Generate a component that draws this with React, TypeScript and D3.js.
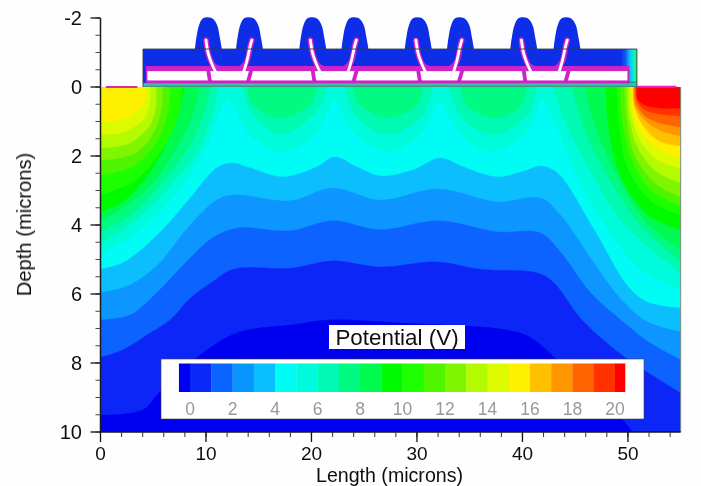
import React from "react";
import * as d3 from "d3";

type P = [number, number];

// Colour of each legend cell, lowest potential first
const cellColors = ["#0000f0","#0a28f8","#0a64ff","#0a96ff","#0abeff","#00fcf4","#00fadc","#00fab4","#00fa82","#00fa50","#00fa00","#1eff00","#50f500","#80f500","#b4fa00","#dcfa00","#fff000","#ffc000","#ff9600","#ff6400","#ff3200","#ff0000"];
const legendTicks = [0,2,4,6,8,10,12,14,16,18,20];
const legendEdges = [-0.52,...d3.range(0,21),20.47];

const xMajor = [0,10,20,30,40,50];
const xMinor = d3.range(0,55,2);
const yMajor = [-2,0,2,4,6,8,10];
const yMinor = d3.range(-2,10.01,0.5);

// Iso-potential contours (microns, depth)
const pot4: P[] = [[0,5.28],[2.1,5.1],[5.4,4.29],[8.5,3.22],[11,2.35],[12.5,2.2],[14.2,2.35],[17.3,2.61],[20.5,2.32],[22.2,2.03],[24.3,2.32],[26.5,2.58],[29.6,2.41],[32.2,2.06],[34.4,2.32],[37.6,2.61],[40.4,2.41],[41.7,2.29],[43.3,2.49],[46.7,4.09],[49.9,5.74],[51.8,6.23],[55,6.41]];
const pot3: P[] = [[0,5.97],[2.8,5.74],[5.4,5.16],[8.5,4.0],[11,3.28],[12.6,3.13],[18,3.3],[22,2.93],[26.5,3.28],[32,2.96],[37.6,3.33],[41.7,3.22],[43.6,3.71],[46.7,5.07],[49.2,6.1],[51.8,6.8],[55,7.1]];
const pot2: P[] = [[0,6.75],[2.8,6.61],[5.4,5.94],[8.5,4.96],[10.6,4.38],[13,4.09],[18,4.17],[22,3.88],[26.5,4.14],[32,3.88],[37.6,4.2],[41.7,4.23],[43.6,4.78],[46.4,5.94],[49.9,6.9],[52,7.4],[55,7.91]];
const pot1: P[] = [[0,7.83],[2.1,7.62],[4.7,7.13],[6.6,6.75],[8.5,6.12],[10.6,5.65],[12.6,5.28],[18,5.25],[22,5.04],[26.5,5.22],[31.9,5.07],[36,5.28],[41.4,5.39],[42.9,5.65],[45.5,6.7],[48,7.42],[50.5,8.0],[55,8.87]];
const pot0: P[] = [[0,9.51],[4,9.36],[5.6,8.84],[10.1,7.62],[13.2,7.1],[18,6.9],[21.8,6.75],[28.4,6.84],[38.5,7.04],[40.7,7.25],[43.3,7.91],[46.4,8.78],[49.5,9.65],[50.4,10]];
const pot5: P[] = [[0,4.87],[3.75,4.14],[7.05,3.13],[9.9,1.83],[11.5,0.61],[12.1,0.38],[12.65,0.61],[14.2,1.39],[17.2,1.88],[20.3,1.39],[21.75,0.61],[22.2,0.38],[22.7,0.61],[24.2,1.39],[27.25,1.88],[30.3,1.39],[31.7,0.61],[32.2,0.38],[32.65,0.61],[34.2,1.39],[37.1,1.88],[40.2,1.39],[41.5,0.61],[41.85,0.38],[42.4,0.61],[43.2,1.1],[44.95,2.41],[47.8,4.0],[51.15,5.25],[55,5.88]];

const left6: P[] = [[0,4.52],[2.8,4.0],[6.1,3.04],[9.25,1.83],[10.6,0.81],[11.15,0]];
const left7: P[] = [[0,4.2],[2.6,3.77],[5.65,2.84],[8.5,1.68],[9.9,0.67],[10.4,0]];
const left8: P[] = [[0,3.86],[2.3,3.48],[5.15,2.7],[7.35,1.68],[8.7,0.81],[9.4,0]];
const left9: P[] = [[0,3.62],[2.3,3.28],[4.7,2.46],[6.6,1.39],[7.35,0.67],[8,0]];
const left10: P[] = [[0,3.13],[3.3,2.7],[6.1,1.68],[7.35,0.81],[7.7,0]];
const left11: P[] = [[0,2.55],[3.3,2.26],[5.65,1.39],[6.4,0.67],[6.6,0]];
const left12: P[] = [[0,2.12],[3.3,1.91],[5.15,1.25],[5.8,0.52],[5.85,0]];
const left13: P[] = [[0,1.77],[2.8,1.62],[4.7,1.1],[5.25,0.52],[5.25,0]];
const left14: P[] = [[0,1.39],[2.3,1.3],[4.2,0.9],[4.7,0.38],[4.7,0]];
const left15: P[] = [[0,1.01],[1.85,0.96],[3.55,0.67],[4.2,0.38],[4.3,0]];

const lobe6a: P[] = [[13.5,0],[13.8,0.38],[14.65,0.9],[17.2,1.39],[19.85,0.9],[21.1,0.38],[21.4,0]];
const lobe6b: P[] = [[23.2,0],[23.5,0.38],[24.4,0.9],[27.25,1.39],[30.3,0.9],[31.2,0.38],[31.4,0]];
const lobe6c: P[] = [[33.1,0],[33.4,0.38],[34.3,0.9],[37.1,1.39],[40.2,0.9],[41.1,0.38],[41.3,0]];
const lobe7a: P[] = [[13.9,0],[14.45,0.52],[17.2,0.9],[19.85,0.52],[20.5,0]];
const lobe7b: P[] = [[23.9,0],[24.6,0.52],[27.25,0.9],[30,0.52],[30.5,0]];
const lobe7c: P[] = [[34.1,0],[34.7,0.52],[37.5,0.9],[39.9,0.52],[40.4,0]];

const right6: P[] = [[42.9,0],[44,0.96],[46.4,2.41],[49.7,4.0],[55,5.39]];
const right7: P[] = [[44.7,0],[45.9,1.25],[48.3,2.7],[51.15,4.0],[55,5.07]];
const right8: P[] = [[45.9,0],[46.85,1.1],[48.95,2.55],[51.6,3.86],[55,4.72]];
const right9: P[] = [[47.9,0],[48.2,1.25],[49.4,2.64],[51.9,3.71],[55,4.14]];
const right10: P[] = [[48.95,0],[49.15,1.1],[50,2.35],[52.1,3.28],[55,3.71]];
const right11: P[] = [[49.3,0],[49.5,1.01],[50.4,2.12],[52.4,3.04],[55,3.42]];
const right12: P[] = [[49.7,0],[49.9,0.9],[50.65,1.97],[52.55,2.78],[55,3.19]];
const right13: P[] = [[50,0],[50.1,0.81],[50.95,1.77],[52.75,2.46],[55,2.78]];
const right14: P[] = [[50.2,0],[50.3,0.72],[51.15,1.54],[52.85,2.12],[55,2.35]];
const right15: P[] = [[50.4,0],[50.5,0.67],[51.3,1.33],[53,1.83],[55,2.06]];
const right16: P[] = [[50.5,0],[50.65,0.61],[51.6,1.19],[53,1.57],[55,1.71]];
const right17: P[] = [[50.55,0],[50.65,0.52],[51.6,0.96],[53,1.25],[55,1.42]];
const right18: P[] = [[50.65,0],[50.75,0.46],[51.6,0.84],[53,1.04],[55,1.16]];
const right19: P[] = [[50.75,0],[50.85,0.38],[51.6,0.67],[53,0.78],[55,0.84]];
const right20: P[] = [[50.85,0],[50.95,0.38],[51.6,0.52],[53,0.61],[55,0.61]];

// Device structure (microns)
const leftGates = [10.2,20.1,30.1,40.1];
const rightGates = [14.1,24.1,34.1,44.2];
const humpProfile: P[] = [[-1.25,-1.1],[-1.1,-1.45],[-0.85,-1.8],[-0.45,-2],[0.35,-2],[0.85,-1.8],[1.1,-1.45],[1.3,-1.1]];
const uProfile: P[] = [[-0.2,-1.36],[0.03,-0.95],[0.5,-0.62],[1.2,-0.52],[3.0,-0.52],[3.65,-0.72],[4.0,-1.2],[4.15,-1.36]];
const armLeft: P[] = [[-0.2,-1.36],[0.03,-0.95],[0.45,-0.6],[0.75,-0.42]];
const armRight: P[] = [[4.15,-1.36],[4.0,-1.2],[3.65,-0.72],[3.35,-0.42]];

const W = 701, H = 486;
const x = d3.scaleLinear().domain([0,55]).range([100.5,680.7]);
const y = d3.scaleLinear().domain([0,10]).range([87,432]);
const legendX = d3.scaleLinear().domain([0,20]).range([190,615]);

const contour = d3.line<P>().x(d=>x(d[0])).y(d=>y(d[1])).curve(d3.curveCatmullRom.alpha(0.5));
const closed = (pts: P[], corners: P[]) => contour(pts)! + corners.map(c=>`L${x(c[0])},${y(c[1])}`).join("") + "Z";

const BR: P[] = [[55,10],[0,10]];
const TL: P[] = [[0,0]];
const TR: P[] = [[55,0]];
const TOP: P[] = [[55,0],[0,0]];
const layers: [P[], P[], number][] = [
  [pot4,BR,4],[pot3,BR,3],[pot2,BR,2],[pot1,BR,1],[pot0,BR,0],
  [pot5,TOP,6],
  [left6,TL,7],[lobe6a,[],7],[lobe6b,[],7],[lobe6c,[],7],[right6,TR,7],
  [left7,TL,8],[lobe7a,[],8],[lobe7b,[],8],[lobe7c,[],8],[right7,TR,8],
  [left8,TL,9],[right8,TR,9],
  [left9,TL,10],[right9,TR,10],
  [left10,TL,11],[right10,TR,11],
  [left11,TL,12],[right11,TR,12],
  [left12,TL,13],[right12,TR,13],
  [left13,TL,14],[right13,TR,14],
  [left14,TL,15],[right14,TR,15],
  [left15,TL,16],[right15,TR,16],
  [right16,TR,17],[right17,TR,18],[right18,TR,19],[right19,TR,20],[right20,TR,21],
];

const FONT = "'Liberation Sans', Arial, sans-serif";
const BLUE = "#0a2ee6", MAG = "#cf22c8";
const rectAttr = (x0:number,x1:number,y0:number,y1:number) => ({x:x(x0),width:x(x1)-x(x0),y:y(y0),height:y(y1)-y(y0)});
const shift = (pts:P[],c:number):P[] => pts.map(p=>[p[0]+c,p[1]]);

export default function App(){
  return (
    <svg width={W} height={H} viewBox={`0 0 ${W} ${H}`} style={{position:"absolute",left:0,top:0,background:"#fefefe"}} fontFamily={FONT}>
      <defs>
        <clipPath id="plot"><rect {...rectAttr(0,55,0,10)}/></clipPath>
        <filter id="soft" x="-2%" y="-2%" width="104%" height="104%"><feGaussianBlur stdDeviation="0.55"/></filter>
        <filter id="softText" x="-5%" y="-5%" width="110%" height="110%"><feGaussianBlur stdDeviation="0.3"/></filter>
        <linearGradient id="edge" x1="0" x2="1" y1="0" y2="0">
          <stop offset="0" stopColor={BLUE}/><stop offset="0.3" stopColor="#0a5cf0"/><stop offset="0.55" stopColor="#0ac0ff"/><stop offset="0.8" stopColor="#00f0d0"/><stop offset="1" stopColor="#50f050"/>
        </linearGradient>
      </defs>

      <g clipPath="url(#plot)" filter="url(#soft)">
        <rect {...rectAttr(0,55,0,10)} fill={cellColors[5]}/>
        {layers.map(([pts,corners,c],i)=>(
          <path key={i} d={closed(pts,corners)} fill={cellColors[c]} stroke={cellColors[c]} strokeWidth={0.4}/>
        ))}
      </g>

      <g filter="url(#soft)">
        {/* dielectric body */}
        <rect {...rectAttr(4.03,50.85,-1.1,-0.1)} fill={BLUE}/>
        {[...leftGates,...rightGates].map(c=>(
          <path key={c} d={contour(shift(humpProfile,c))!+"Z"} fill={BLUE}/>
        ))}
        <rect {...rectAttr(49.3,50.85,-1.1,-0.1)} fill="url(#edge)"/>
        {/* field plate outline and oxide blocks */}
        <rect {...rectAttr(4.3,50.15,-0.61,-0.1)} fill={MAG}/>
        {leftGates.map(c=>(
          <path key={c} d={contour(shift(uProfile,c))!} fill="none" stroke={MAG} strokeWidth={5.6} strokeLinecap="round"/>
        ))}
        <rect {...rectAttr(4.45,49.95,-0.46,-0.19)} fill="#ffffff"/>
        {leftGates.map(c=>(
          <g key={c} fill="none" strokeLinecap="round" stroke="#fff" strokeWidth={2.8}>
            <path d={contour(shift(armLeft,c))!}/>
            <path d={contour(shift(armRight,c))!}/>
          </g>
        ))}
        {leftGates.map(c=>(
          <line key={c} x1={x(c-0.05)} x2={x(c+0.2)} y1={y(-0.6)} y2={y(-0.12)} stroke={MAG} strokeWidth={3.8}/>
        ))}
        {rightGates.map(c=>(
          <line key={c} x1={x(c+0.3)} x2={x(c-0.15)} y1={y(-0.6)} y2={y(-0.12)} stroke={MAG} strokeWidth={3.8}/>
        ))}
        <rect {...rectAttr(4.03,50.85,-0.1,0)} fill="#3cbcb0"/>
      </g>

      {/* frame and surface contacts */}
      <path d={`M${x(4.03)},${y(0)}V${y(-1.1)}H${x(50.85)}V${y(0)}`} fill="none" stroke="#2c3c3c" strokeWidth={0.9}/>
      <line x1={x(4.03)} x2={x(50.85)} y1={y(-0.02)} y2={y(-0.02)} stroke="#3c8c70" strokeWidth={1}/>
      <line x1={x(49.9)} x2={x(50.85)} y1={y(-0.14)} y2={y(-0.14)} stroke="#2c5c50" strokeWidth={0.8}/>
      <line x1={x(0.5)} x2={x(3.5)} y1={y(0)} y2={y(0)} stroke="#d8309a" strokeWidth={2}/>
      <line x1={x(50.85)} x2={x(54.6)} y1={y(-0.01)} y2={y(-0.01)} stroke="#f020c0" strokeWidth={2}/>

      {/* axes */}
      <line x1={x(55)} x2={x(55)} y1={y(0)} y2={y(10)} stroke="#7a8a80" strokeWidth={1}/>
      <line x1={x(0)} x2={x(0)} y1={y(-2)} y2={y(10)} stroke="#1a1a1a" strokeWidth={1.5}/>
      <line x1={x(0)-1} x2={x(55)} y1={y(10)} y2={y(10)} stroke="#1a1a1a" strokeWidth={1.3}/>
      {xMinor.map(t=>(<line key={t} x1={x(t)} x2={x(t)} y1={y(10)} y2={y(10)+5} stroke="#333" strokeWidth={1}/>))}
      {xMajor.map(t=>(<line key={t} x1={x(t)} x2={x(t)} y1={y(10)} y2={y(10)+10} stroke="#111" strokeWidth={1.3}/>))}
      {yMinor.map(t=>(<line key={t} x1={x(0)-5} x2={x(0)} y1={y(t)} y2={y(t)} stroke="#444" strokeWidth={1}/>))}
      {yMajor.map(t=>(<line key={t} x1={x(0)-10} x2={x(0)} y1={y(t)} y2={y(t)} stroke="#111" strokeWidth={1.3}/>))}

      {/* legend */}
      <rect x={161} y={359} width={483} height={60} fill="#fff" stroke="#444" strokeWidth={0.6}/>
      {cellColors.map((c,i)=>(
        <rect key={i} x={legendX(legendEdges[i])} width={legendX(legendEdges[i+1])-legendX(legendEdges[i])+0.3} y={363.5} height={28.5} fill={c}/>
      ))}
      <rect x={329} y={325} width={136} height={24} fill="#fff"/>

      <g filter="url(#softText)" fill="#111">
        {xMajor.map(t=>(<text key={t} x={x(t)} y={460} textAnchor="middle" fontSize={19}>{t}</text>))}
        {yMajor.map(t=>(<text key={t} x={82} y={y(t)+7} textAnchor="end" fontSize={20}>{t}</text>))}
        <text x={389.5} y={481.5} textAnchor="middle" fontSize={19.6}>Length (microns)</text>
        <text transform="translate(31,224.5) rotate(-90)" textAnchor="middle" fontSize={20.2}>Depth (microns)</text>
        <text x={397} y={345} textAnchor="middle" fontSize={22.4}>Potential (V)</text>
        {legendTicks.map(t=>(
          <text key={t} x={legendX(t)} y={415} textAnchor="middle" fontSize={17.5} fill="#999">{t}</text>
        ))}
      </g>
    </svg>
  );
}
